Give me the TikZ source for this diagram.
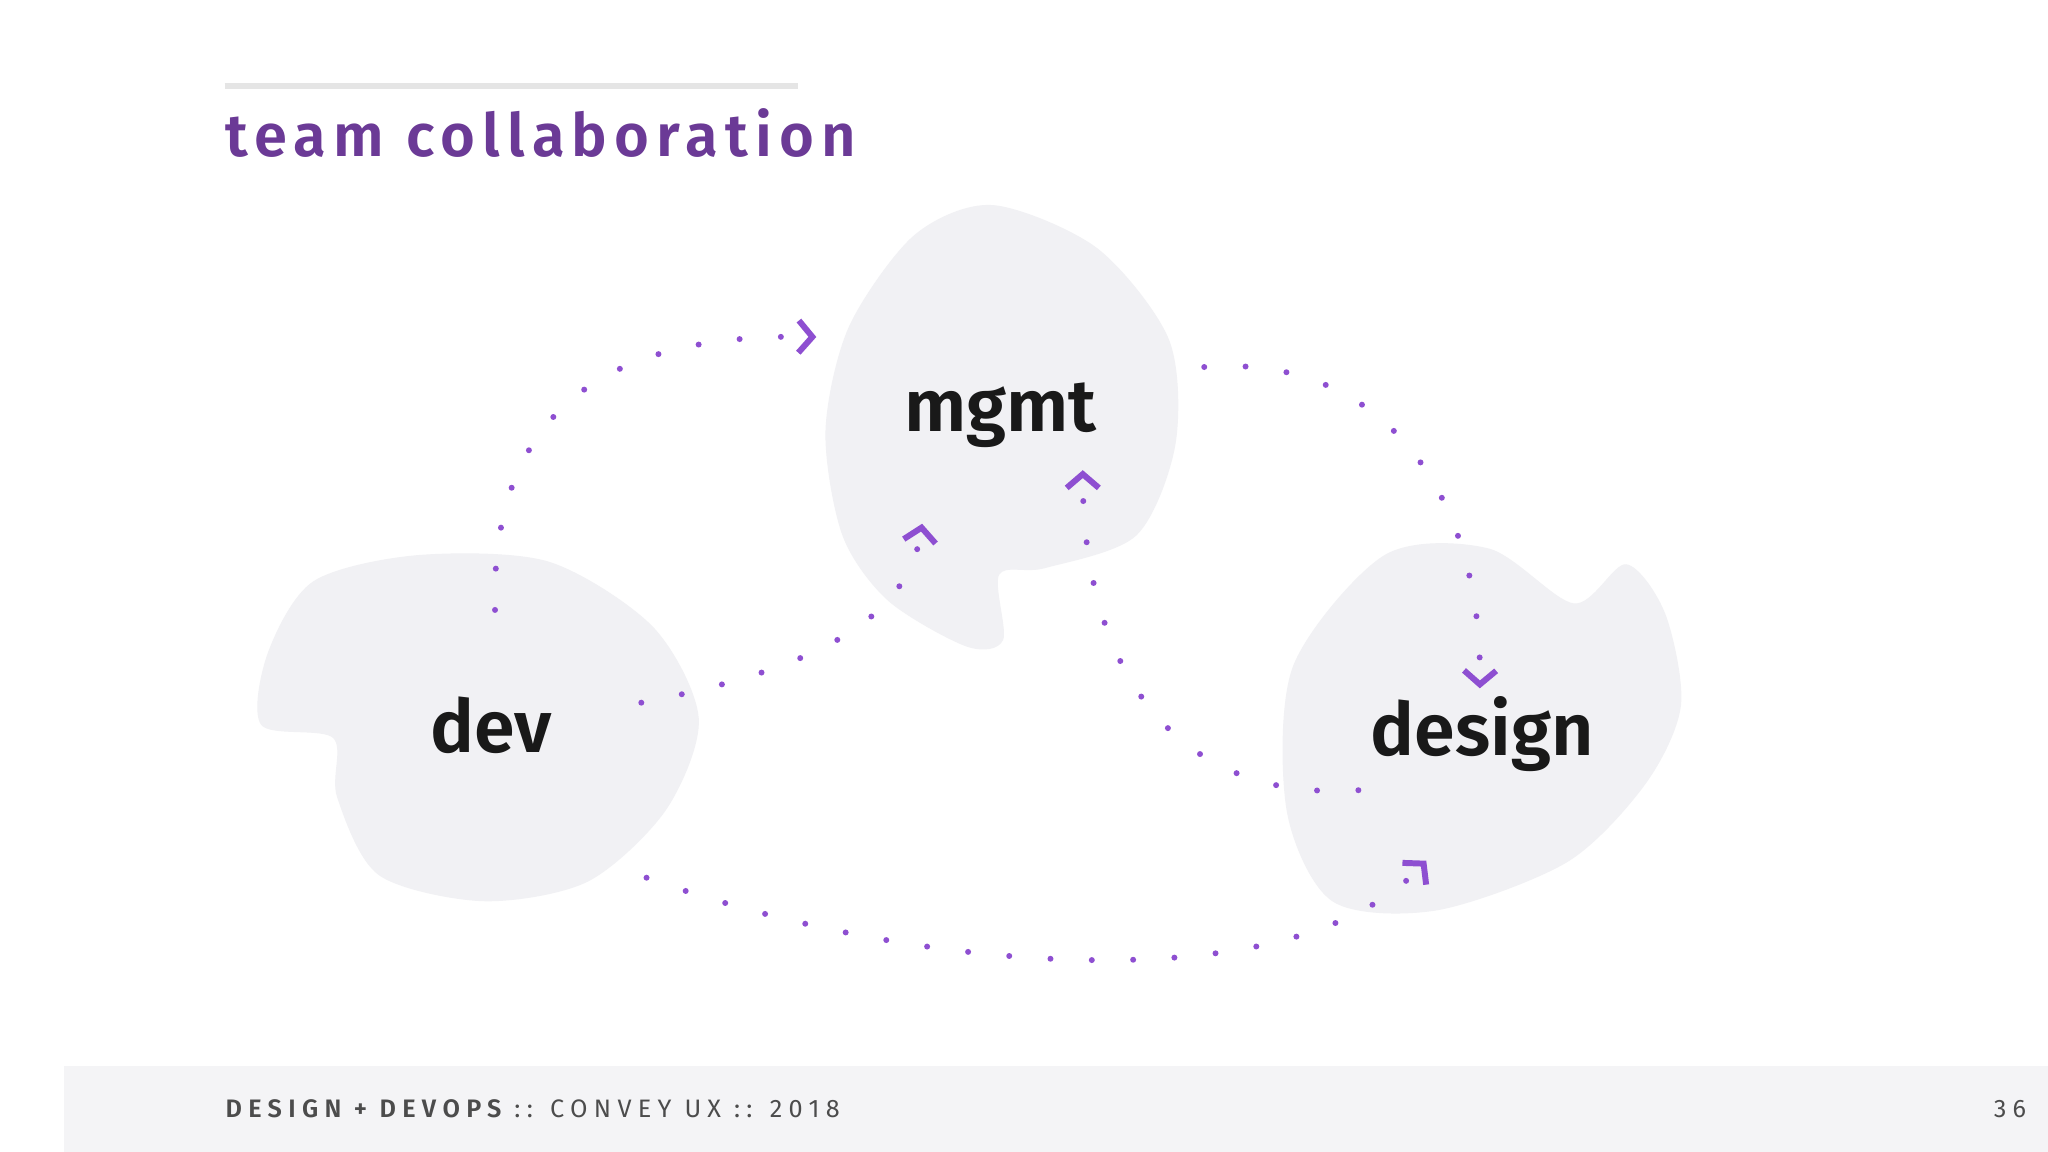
\documentclass[tikz,border=0pt]{standalone}
\usepackage{fontspec}
\setmainfont{Fira Sans}
\newfontfamily\titlefont[LetterSpace=12]{Fira Sans SemiBold}
\newfontfamily\labfont{Fira Sans SemiBold}
\newfontfamily\footfont[LetterSpace=25]{Fira Sans}
\newfontfamily\footbold[LetterSpace=25]{Fira Sans SemiBold}
\usetikzlibrary{arrows.meta}
\definecolor{blob}{HTML}{F1F1F4}
\definecolor{foot}{HTML}{F4F4F6}
\definecolor{ttl}{HTML}{6B3A96}
\definecolor{arr}{HTML}{8E4FD1}
\tikzset{
  blobshape/.style={fill=blob,draw=none},
  lab/.style={font=\labfont\fontsize{16pt}{18pt}\selectfont,text=black!90},
  flow/.style={arr,line width=1.3pt,line cap=round,dash pattern=on 0pt off 9pt,
    -{Straight Barb[length=3pt,width=7pt,line width=1.3pt]}}
}
\begin{document}
\begin{tikzpicture}[x=0.01cm,y=-0.01cm]
\useasboundingbox (0,0) rectangle (1568,882);
\fill[white] (0,0) rectangle (1568,882);
\fill[foot] (49,816) rectangle (1568,882);
\draw[black!10,line width=1.2pt] (172,66) -- (611,66);
\node[anchor=base west,inner sep=0,text=ttl,font=\titlefont\fontsize{13pt}{15pt}\selectfont] (title) at (172,120) {team collaboration};
% blobs
\fill[blobshape] plot[smooth cycle] coordinates {(240,445)(320,425)(420,430)(500,480)(535,550)(510,620)(450,675)(370,690)(290,670)(258,610)(255,565)(200,555)(205,500)};
\fill[blobshape] plot[smooth cycle] coordinates {(760,157)(840,190)(895,260)(900,340)(870,410)(800,435)(765,440)(768,490)(740,495)(680,460)(645,410)(632,330)(650,250)(700,180)};
\fill[blobshape] plot[smooth cycle] coordinates {(1060,425)(1140,420)(1205,462)(1245,432)(1275,470)(1287,540)(1260,600)(1200,660)(1100,697)(1020,690)(985,620)(990,510)};
\node[lab] (dev) at (376,555) {dev};
\node[lab] (mgmt) at (766,318) {mgmt};
\node[lab] (design) at (1135,562) {design};
% arrow endpoints
\coordinate (a1s) at (379,467); \coordinate (a1e) at (625,258);
\coordinate (a2s) at (491,538); \coordinate (a2e) at (706,401);
\coordinate (a3s) at (922,281); \coordinate (a3e) at (1133,527);
\coordinate (a4s) at (1040,605); \coordinate (a4e) at (829,360);
\coordinate (a5s) at (495,672); \coordinate (a5e) at (1092,659);
\draw[flow] (a1s) .. controls (375,310) and (470,255) .. (a1e);
\draw[flow] (a2s) .. controls (610,515) and (695,480) .. (a2e);
\draw[flow] (a3s) .. controls (1060,270) and (1135,380) .. (a3e);
\draw[flow] (a4s) .. controls (890,615) and (829,500) .. (a4e);
\draw[flow] (a5s) .. controls (700,745) and (990,770) .. (a5e);
% footer
\node[anchor=west,inner sep=0,text=black!70,font=\fontsize{5.5pt}{6pt}\selectfont] (ft) at (172,849) {{\footbold DESIGN + DEVOPS}{\footfont\ :: CONVEY UX :: 2018}};
\node[anchor=east,inner sep=0,text=black!70,font=\footfont\fontsize{5.5pt}{6pt}\selectfont] (pg) at (1552,849) {36};
\end{tikzpicture}
\end{document}
